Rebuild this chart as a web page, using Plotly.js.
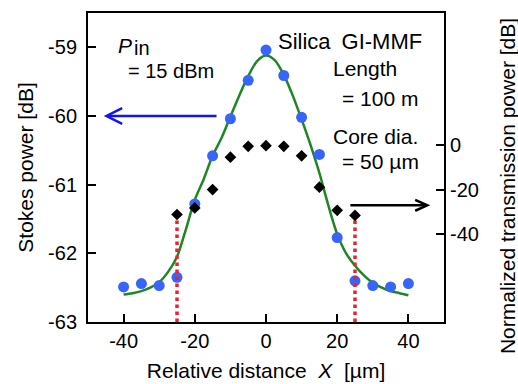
<!DOCTYPE html>
<html>
<head>
<meta charset="utf-8">
<script src="https://cdn.plot.ly/plotly-3.0.1.min.js"></script>
<style>html,body{margin:0;padding:0;background:#fff;}#chart{width:518px;height:384px;}</style>
</head>
<body>
<div id="chart"></div>
<script>
// ---- data ----
// Stokes power (left axis, dB), blue circles
const stokesX = [-40, -35, -30, -25, -20, -15, -10, -5, 0, 5, 10, 15, 20, 25, 30, 35, 40];
const stokesY = [-62.49, -62.44, -62.47, -62.35, -61.28, -60.58, -60.04, -59.48, -59.04, -59.41, -60.02, -60.56, -61.77, -62.40, -62.47, -62.49, -62.44];

// fitted curve (left axis, dB), green line
const fitX = [-40, -37.5, -35, -32.5, -30, -27.5, -25, -22.5, -20, -17.5, -15, -12.5, -10, -7.5, -5, -2.5, 0,
              2.5, 5, 7.5, 10, 12.5, 15, 17.5, 20, 22.5, 25, 27.5, 30, 32.5, 35, 37.5, 40];
const fitY = [-62.60, -62.58, -62.55, -62.50, -62.42, -62.27, -62.05, -61.65, -61.22, -60.92, -60.58, -60.32, -60.01, -59.70, -59.42, -59.20, -59.12,
              -59.19, -59.40, -59.70, -60.05, -60.42, -60.83, -61.30, -61.72, -62.00, -62.18, -62.32, -62.43, -62.50, -62.55, -62.58, -62.61];

// normalized transmission power (right axis, dB), black diamonds
const transX = [-25, -20, -15, -10, -5, 0, 5, 10, 15, 20, 25];
const transY = [-31.3, -28.3, -20.0, -5.3, -0.4, -0.1, -0.4, -4.7, -18.9, -29.4, -31.7];

// core-edge markers (red dotted lines), x positions in µm
const edgeX = [-25, 25];

// tick labels
const xTicks = [-40, -20, 0, 20, 40];
const yTicks = [-63, -62, -61, -60, -59];
const y2Ticks = [-40, -20, 0];

// ---- drawing ----
const FONT = 'Liberation Sans, Arial, Helvetica, sans-serif';
const y2Bottom = -80;
const hyphenLabels = function (arr) { return arr.map(function (v) { return String(v); }); };

const edgeTraces = edgeX.map(function (ex) {
  const v = transY[transX.indexOf(ex)];
  return {
    x: [ex, ex], y: [y2Bottom, v], yaxis: 'y2', mode: 'lines',
    line: {color: 'rgb(238,32,45)', width: 3.5, dash: 'dot'},
    hoverinfo: 'skip', showlegend: false
  };
});

const traces = [
  {x: fitX, y: fitY, mode: 'lines', line: {color: 'rgb(30,135,35)', width: 2.5, shape: 'spline', smoothing: 0.8},
   showlegend: false},
  {x: stokesX, y: stokesY, mode: 'markers',
   marker: {color: 'rgb(55,100,250)', size: 11, line: {width: 0}}, showlegend: false}
].concat(edgeTraces).concat([
  {x: transX, y: transY, yaxis: 'y2', mode: 'markers',
   marker: {color: '#000', size: 9, symbol: 'diamond', line: {width: 0}}, showlegend: false}
]);

function chevron(tipX, tipY, backX, halfY) {
  return 'M' + (tipX + backX) + ',' + (tipY + halfY) + ' L' + tipX + ',' + tipY + ' L' + (tipX + backX) + ',' + (tipY - halfY);
}

const shapes = [
  // blue arrow pointing to the left axis
  {type: 'line', xref: 'x', yref: 'y', x0: -13.9, x1: -44.6, y0: -60, y1: -60, line: {color: 'rgb(20,20,240)', width: 2.5}},
  {type: 'path', xref: 'x', yref: 'y', path: chevron(-44.8, -60, 4.4, 0.115), line: {color: 'rgb(20,20,240)', width: 2.5}},
  // black arrow pointing to the right axis
  {type: 'line', xref: 'x', yref: 'y', x0: 23.7, x1: 45.1, y0: -61.30, y1: -61.30, line: {color: '#000', width: 2.5}},
  {type: 'path', xref: 'x', yref: 'y', path: chevron(45.3, -61.30, -3.4, 0.08), line: {color: '#000', width: 2.5}}
];

function note(text, x, y, size, extra) {
  return Object.assign({text: text, xref: 'paper', yref: 'paper', x: x, y: y, xanchor: 'left', yanchor: 'middle',
    showarrow: false, font: {family: FONT, size: size, color: '#000'}}, extra || {});
}

const annotations = [
  note('<i>P</i>', 0.0790, 0.8964, 21),
  note('in', 0.1230, 0.8867, 20),
  note('= 15 dBm', 0.1080, 0.8139, 20),
  note('Silica\u2002GI-MMF', 0.5270, 0.9078, 22),
  note('Length', 0.6830, 0.8188, 21),
  note('= 100 m', 0.7080, 0.7249, 21),
  note('Core dia.', 0.6830, 0.6019, 21),
  note('= 50 \u00b5m', 0.7080, 0.5210, 21),
  // right-axis title, placed as in the reference (centered a bit below the plot middle)
  note('Normalized transmission power [dB]', 1.177, 0.44, 21, {xanchor: 'center', textangle: -90})
];

const axisCommon = {
  showline: true, linecolor: '#000', linewidth: 2,
  ticks: 'inside', ticklen: 8, tickwidth: 2, tickcolor: '#000',
  showgrid: false, zeroline: false, automargin: false,
  tickfont: {family: FONT, size: 20, color: '#000'}
};

const layout = {
  width: 518, height: 384,
  margin: {l: 88, r: 74, t: 13, b: 62, pad: 0},
  paper_bgcolor: '#fff', plot_bgcolor: '#fff',
  font: {family: FONT, color: '#000'},
  showlegend: false,
  xaxis: Object.assign({}, axisCommon, {
    range: [-50, 50], tickvals: xTicks, ticktext: hyphenLabels(xTicks), mirror: true, ticklabelstandoff: 0,
    title: {text: 'Relative distance\u00a0 <i>X</i>\u00a0 [\u00b5m]', font: {family: FONT, size: 21, color: '#000'}, standoff: 12}
  }),
  yaxis: Object.assign({}, axisCommon, {
    range: [-63, -58.5], tickvals: yTicks, ticktext: hyphenLabels(yTicks), mirror: true, ticklabelstandoff: 5,
    title: {text: 'Stokes power [dB]', font: {family: FONT, size: 21, color: '#000'}, standoff: 9}
  }),
  yaxis2: Object.assign({}, axisCommon, {
    overlaying: 'y', side: 'right', range: [y2Bottom, 60], tickvals: y2Ticks, ticktext: hyphenLabels(y2Ticks),
    showline: false, ticklabelstandoff: 5
  }),
  shapes: shapes,
  annotations: annotations
};

Plotly.newPlot('chart', traces, layout, {staticPlot: true, displayModeBar: false});
</script>
</body>
</html>
